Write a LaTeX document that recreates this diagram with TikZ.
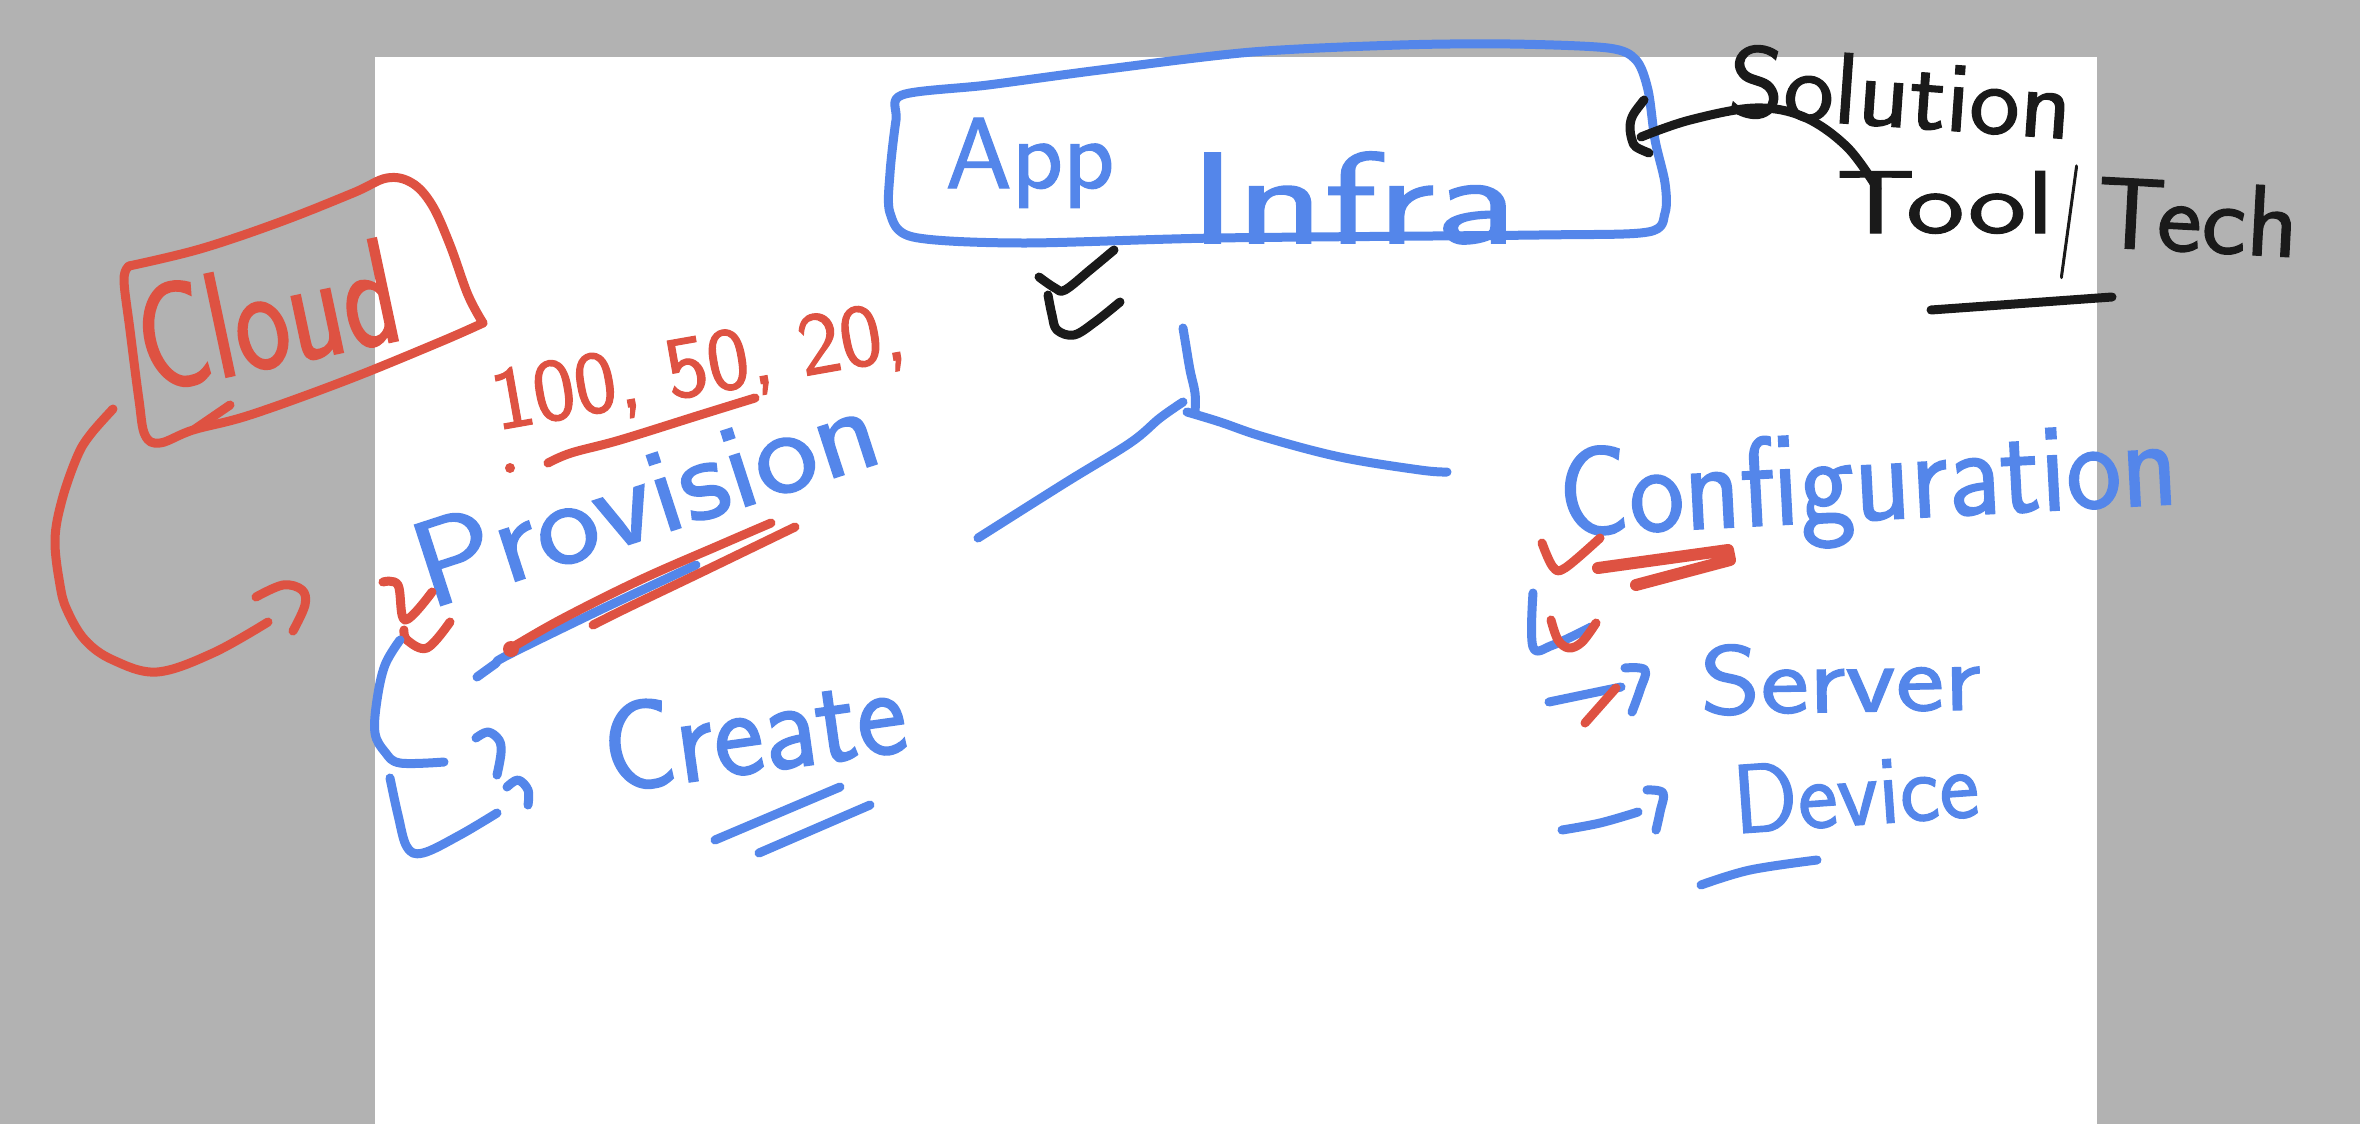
\documentclass[tikz,border=0pt]{standalone}
\usepackage{fontspec}
\newfontfamily\hand[RawFeature={embolden=1.2}]{Latin Modern Sans}
\definecolor{cblue}{HTML}{5486EA}
\definecolor{cred}{HTML}{DE5242}
\definecolor{cblk}{HTML}{1A1A1A}
\definecolor{cgray}{HTML}{B2B2B2}
% #1 font size (pt), #2 horizontal stretch, #3 text
\newcommand\hwtext[3]{{\hand\addfontfeature{FakeStretch=#2}\fontsize{#1}{#1}\selectfont #3}}
\tikzset{
  pen/.style={line width=9pt, line cap=round, line join=round},
  bp/.style={pen, draw=cblue},
  rp/.style={pen, draw=cred},
  kp/.style={pen, draw=cblk},
  hw/.style={inner sep=0pt, anchor=base},
  sm/.style={smooth, tension=0.6}
}
\begin{document}
\begin{tikzpicture}[x=1pt,y=-1pt]
\fill[cgray] (0,0) rectangle (2360,1124);
\fill[white] (375,57) rectangle (2097,1124);
\useasboundingbox (0,0) rectangle (2360,1124);

% ---------- Cloud (red) ----------
\draw[rp] plot[sm] coordinates {(129,266) (200,249) (280,222) (353,193) (387,178) (412,183) (432,205) (450,245) (468,295) (483,323)};
\draw[rp] plot[sm] coordinates {(483,323) (440,342) (347,380) (250,415) (193,430) (160,443) (145,435) (139,400) (130,330) (124,280) (129,266)};
\draw[rp] (230,405) -- (195,429);
\node[hw, text=cred, rotate=12] (cloud) at (278,366) {\hwtext{151}{0.77}{Cloud}};
\draw[rp] plot[sm] coordinates {(113,409) (90,435) (77,457) (62,500) (55,540) (60,585) (67,610) (85,640) (113,660) (157,672) (213,653) (268,622)};
\draw[rp] plot[sm] coordinates {(256,597) (283,585) (302,590) (305,605) (293,631)};

% ---------- numbers ----------
\node[hw, text=cred, rotate=10] (nums) at (703,394) {\hwtext{89}{1.0}{100, 50, 20,}};
\draw[rp] plot[sm] coordinates {(548,463) (571,453) (620,440) (700,415) (755,398)};
\fill[cred] (510,468) circle (5);

% ---------- Provision ----------
\node[hw, text=cblue, rotate=18] (prov) at (658,535) {\hwtext{122}{1.1}{Provision}};
\draw[bp] plot[sm] coordinates {(477,677) (495,664) (508,655) (600,610) (696,565)};
\draw[rp] plot[sm] coordinates {(508,650) (560,620) (640,580) (720,545) (771,523)};
\fill[cred] (511,649) circle (8);
\draw[rp] plot[sm] coordinates {(593,625) (627,608) (700,573) (795,527)};
\draw[rp] plot[sm] coordinates {(383,582) (398,585) (405,620) (432,592)};
\draw[rp] plot[sm] coordinates {(450,622) (427,648) (407,640) (404,630)};
\draw[bp] plot[sm] coordinates {(400,640) (385,665) (377,700) (375,733) (385,752) (400,763) (444,762)};
\draw[bp] plot[sm] coordinates {(390,778) (398,815) (407,847) (423,853) (460,835) (497,813)};
\draw[bp] plot[sm] coordinates {(476,738) (488,732) (499,740) (501,753) (497,775)};
\draw[bp] plot[sm] coordinates {(507,787) (518,780) (528,790) (528,805)};

% ---------- Create ----------
\node[hw, text=cblue, rotate=8] (create) at (760,772) {\hwtext{127}{0.94}{Create}};
\draw[bp] (715,840) -- (840,787);
\draw[bp] (759,853) -- (870,805);

% ---------- App Infra ----------
\draw[bp] plot[smooth cycle, tension=0.5] coordinates {(902,95) (988,85) (1100,70) (1252,52) (1400,45) (1510,44) (1608,48) (1636,60) (1648,90) (1655,140) (1665,183) (1665,213) (1648,232) (1539,235) (1217,238) (1022,243) (913,237) (890,213) (890,173) (896,120)};
\node[hw, text=cblue] (app) at (1030,188) {\hwtext{101}{1.05}{App}};
\node[hw, text=cblue] (infra) at (1353,243) {\hwtext{130}{1.4}{Infra}};
\draw[kp] plot[sm] coordinates {(1039,277) (1055,288) (1065,290) (1090,270) (1114,250)};
\draw[kp] plot[sm] coordinates {(1048,295) (1052,315) (1057,330) (1074,335) (1095,322) (1120,302)};

% ---------- tree ----------
\draw[bp] plot[sm] coordinates {(1183,328) (1185,340) (1190,370) (1195,393) (1195,413)};
\draw[bp] plot[sm] coordinates {(1183,402) (1160,418) (1130,443) (1065,483) (978,538)};
\draw[bp] plot[sm] coordinates {(1187,412) (1220,422) (1264,437) (1340,457) (1420,470) (1447,472)};

% ---------- Solution / Tool / Tech ----------
\draw[kp] plot[sm] coordinates {(1644,100) (1633,115) (1630,127) (1632,140) (1636,147) (1649,153)};
\draw[kp] plot[sm] coordinates {(1641,137) (1690,120) (1755,108) (1804,117) (1847,147) (1877,188)};
\node[hw, text=cblk, rotate=-4] (sol) at (1898,127) {\hwtext{101}{1.06}{Solution}};
\node[hw, text=cblk] (tool) at (1945,233) {\hwtext{89}{1.4}{Tool}};
\node[hw, text=cblk] (slash) at (2069,250) {\hwtext{113}{0.4}{/}};
\node[hw, text=cblk, rotate=-3] (tech) at (2196,252) {\hwtext{101}{1.06}{Tech}};
\draw[kp] (1931,310) -- (2112,297);

% ---------- Configuration ----------
\node[hw, text=cblue, rotate=3] (config) at (1870,520) {\hwtext{127}{0.92}{Configuration}};
\draw[rp] plot[sm] coordinates {(1542,543) (1553,567) (1565,568) (1600,538)};
\draw[rp, line width=12pt] (1598,568) -- (1728,550) -- (1730,560) -- (1636,585);
\draw[bp] plot[sm] coordinates {(1533,593) (1533,647) (1553,645) (1591,627)};
\draw[rp] plot[sm] coordinates {(1551,620) (1558,640) (1569,648) (1582,642) (1596,623)};

\draw[bp] (1549,702) -- (1621,687);
\draw[bp] plot[sm] coordinates {(1625,668) (1645,670) (1640,690) (1632,712)};
\draw[rp] (1585,723) -- (1616,688);
\node[hw, text=cblue, rotate=1] (server) at (1841,712) {\hwtext{98}{1.18}{Server}};

\draw[bp] plot[sm] coordinates {(1562,830) (1600,823) (1638,812)};
\draw[bp] plot[sm] coordinates {(1647,790) (1663,793) (1660,812) (1656,830)};
\node[hw, text=cblue, rotate=4] (device) at (1858,825) {\hwtext{98}{0.97}{Device}};
\draw[bp] plot[sm] coordinates {(1701,885) (1750,870) (1817,860)};
\end{tikzpicture}
\end{document}
